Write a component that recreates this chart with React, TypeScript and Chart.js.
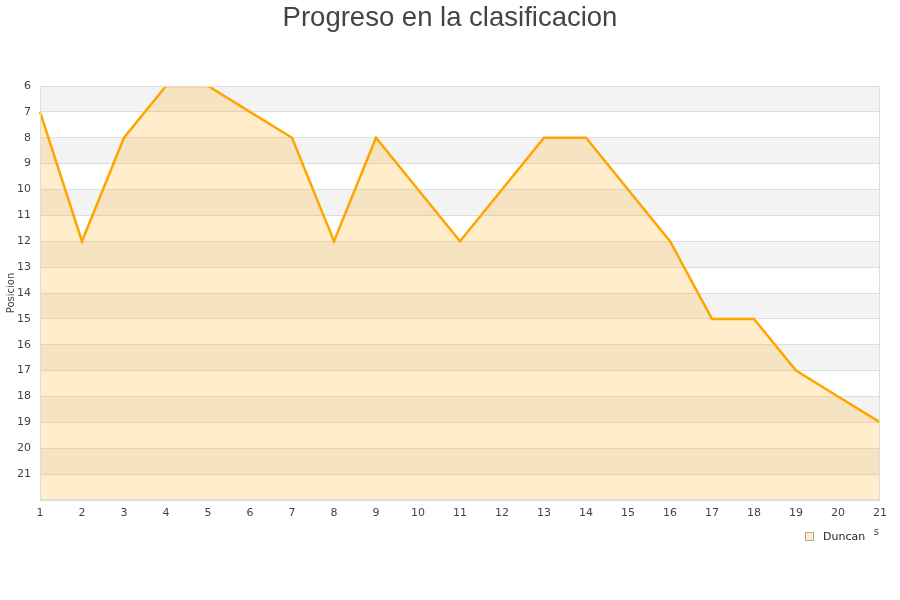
import React, { useEffect, useRef } from "react";
import { Chart, registerables } from "chart.js";

Chart.register(...registerables);

const jornadas: string[] = ["1","2","3","4","5","6","7","8","9","10","11","12","13","14","15","16","17","18","19","20","21"];
const posiciones: number[] = [7, 12, 8, 6, 6, 7, 8, 12, 8, 10, 12, 10, 8, 8, 10, 12, 15, 15, 17, 18, 19];
const seriesName = "Duncan";
const titleText = "Progreso en la clasificacion";
const yTitle = "Posicion";
const xTitle = "Jornadas";
const yMin = 6;
const yMax = 22;

const FONT = "'DejaVu Sans', sans-serif";

const decorPlugin = {
  id: "decor",
  beforeDraw(chart: any) {
    const { ctx, chartArea } = chart;
    const y = chart.scales.y;
    ctx.save();
    ctx.fillStyle = "#f3f3f3";
    for (let v = yMin; v < yMax; v += 2) {
      const p1 = y.getPixelForValue(v);
      const p2 = y.getPixelForValue(v + 1);
      ctx.fillRect(chartArea.left, Math.min(p1, p2), chartArea.right - chartArea.left, Math.abs(p2 - p1));
    }
    ctx.restore();
  },
  afterDraw(chart: any) {
    const { ctx, chartArea, width } = chart;
    ctx.save();
    // plot border
    ctx.strokeStyle = "#dddddd";
    ctx.lineWidth = 1;
    ctx.strokeRect(chartArea.left + 0.5, chartArea.top + 0.5, chartArea.right - chartArea.left - 1, chartArea.bottom - chartArea.top - 1);
    // title
    ctx.fillStyle = "#444444";
    ctx.font = "27.5px 'Liberation Sans', Arial, sans-serif";
    ctx.textAlign = "center";
    ctx.textBaseline = "alphabetic";
    ctx.fillText(titleText, width / 2, 26);
    // y title
    ctx.save();
    ctx.translate(11, (chartArea.top + chartArea.bottom) / 2);
    ctx.rotate(-Math.PI / 2);
    ctx.font = "10px " + FONT;
    ctx.fillStyle = "#444444";
    ctx.textAlign = "center";
    ctx.textBaseline = "middle";
    ctx.fillText(yTitle, 0, 0);
    ctx.restore();
    // x title (partly hidden by legend)
    ctx.font = "10px " + FONT;
    ctx.fillStyle = "#444444";
    ctx.textAlign = "right";
    ctx.textBaseline = "alphabetic";
    ctx.fillText(xTitle, 879, 535);
    // legend background
    ctx.fillStyle = "#ffffff";
    ctx.fillRect(798, 526, 75, 22);
    // legend box
    ctx.fillStyle = "rgba(255,165,0,0.2)";
    ctx.fillRect(805, 532, 9, 9);
    ctx.strokeStyle = "#b8a88a";
    ctx.strokeRect(805.5, 532.5, 8, 8);
    ctx.fillStyle = "#222222";
    ctx.font = "11px " + FONT;
    ctx.textAlign = "left";
    ctx.textBaseline = "middle";
    ctx.fillText(seriesName, 823, 537);
    ctx.restore();
  },
};

export default function App() {
  const ref = useRef<HTMLCanvasElement | null>(null);
  useEffect(() => {
    document.body.style.margin = "0";
    const canvas = ref.current;
    if (!canvas) return;
    const chart = new Chart(canvas, {
      type: "line",
      data: {
        labels: jornadas,
        datasets: [
          {
            label: seriesName,
            data: posiciones,
            borderColor: "#ffa500",
            backgroundColor: "rgba(255,165,0,0.2)",
            borderWidth: 2.5,
            pointRadius: 0,
            pointHoverRadius: 0,
            tension: 0,
            fill: { value: yMax },
          },
        ],
      },
      options: {
        animation: false,
        responsive: false,
        maintainAspectRatio: false,
        devicePixelRatio: 1,
        layout: { padding: { top: 86, right: 20, left: 0, bottom: 0 } },
        plugins: {
          legend: { display: false },
          title: { display: false },
          tooltip: { enabled: false },
        },
        scales: {
          x: {
            type: "category",
            offset: false,
            grid: { display: false, drawTicks: false },
            border: { display: false },
            ticks: { color: "#444444", font: { family: FONT, size: 11 }, padding: 7, autoSkip: false, maxRotation: 0 },
            afterFit: (s: any) => { s.height = 100; },
          },
          y: {
            type: "linear",
            min: yMin,
            max: yMax,
            reverse: true,
            grid: { color: "#dddddd", drawTicks: false },
            border: { display: false },
            ticks: {
              stepSize: 1,
              color: "#444444",
              font: { family: FONT, size: 11 },
              padding: 9,
              callback: (v: any) => (v === yMax ? "" : String(v)),
            },
            afterFit: (s: any) => { s.width = 40; },
          },
        },
      },
      plugins: [decorPlugin],
    });
    return () => chart.destroy();
  }, []);
  return <canvas ref={ref} width={900} height={600} style={{ display: "block", width: 900, height: 600 }} />;
}
